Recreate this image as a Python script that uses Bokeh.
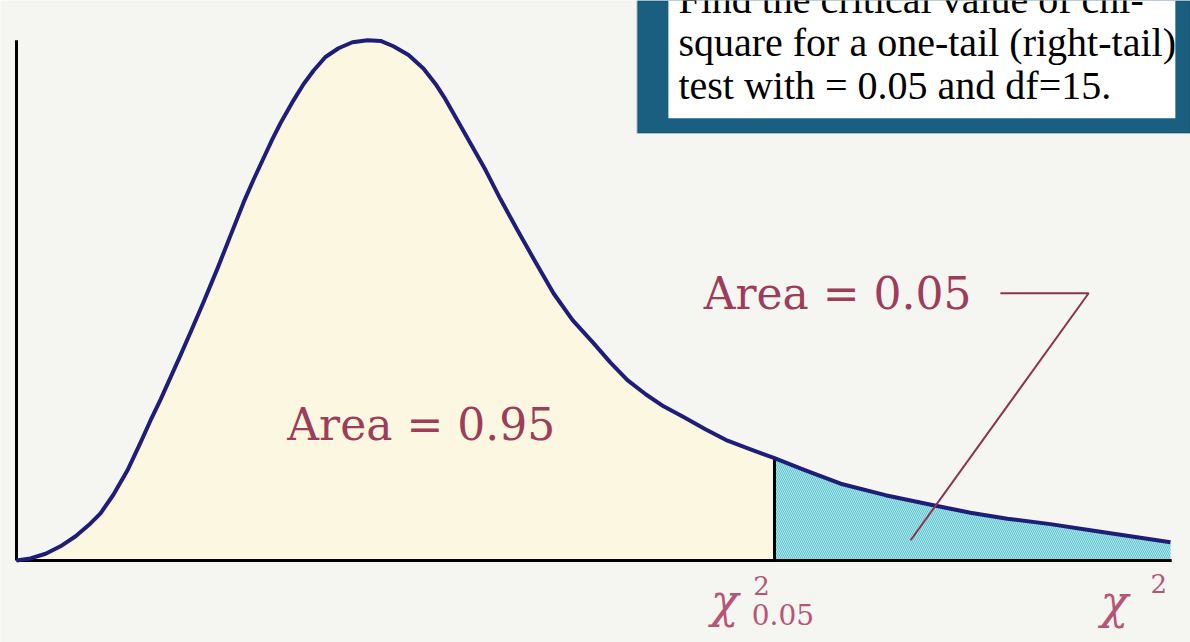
from bokeh.plotting import figure
from bokeh.models import ColumnDataSource, BoxAnnotation, Range1d
from bokeh.core.properties import value
from bokeh.embed import file_html
from bokeh.resources import INLINE

# Chi-square density curve (df = 15), sampled points
chi_x = [0.0, 0.46, 0.96, 1.45, 1.95, 2.44, 2.77, 3.20, 3.66, 4.09, 4.42, 4.75,
         5.08, 5.41, 5.74, 6.17, 6.63, 7.06, 7.49, 7.82, 8.15, 8.44, 8.71, 9.14,
         9.47, 9.80, 10.19, 10.62, 11.08, 11.58, 12.01, 12.43, 12.93, 13.42,
         13.82, 14.15, 14.54, 14.97, 15.47, 15.96, 16.52, 17.12, 17.71, 18.34,
         19.03, 19.59, 20.15, 20.75, 21.34, 22.00, 22.72, 23.45, 24.21, 25.0,
         26.02, 27.18, 28.66, 30.24, 31.46, 32.68, 34.10, 35.42, 36.74, 38.06]
density = [0.0, 0.0003, 0.0010, 0.0021, 0.0036, 0.0055, 0.0070, 0.0098, 0.0134,
           0.0175, 0.0208, 0.0239, 0.0272, 0.0305, 0.0339, 0.0384, 0.0434, 0.0483,
           0.0532, 0.0566, 0.0598, 0.0626, 0.0650, 0.0684, 0.0708, 0.0728, 0.0748,
           0.0761, 0.0770, 0.0773, 0.0772, 0.0764, 0.0751, 0.0731, 0.0708, 0.0685,
           0.0654, 0.0620, 0.0580, 0.0537, 0.0491, 0.0443, 0.0397, 0.0357, 0.0323,
           0.0294, 0.0268, 0.0247, 0.0229, 0.0213, 0.0195, 0.0178, 0.0165, 0.0152,
           0.0134, 0.0114, 0.0097, 0.0082, 0.0071, 0.0062, 0.0054, 0.0045, 0.0036,
           0.0027]

critical_value = 25.0
alpha = 0.05
area_left_text = "Area = 0.95"
area_right_text = "Area = 0.05"
question_lines = ["Find the critical value of chi-",
                  "square for a one-tail (right-tail)",
                  "test with = 0.05 and df=15."]

# Extent of the drawn axis lines
x_axis_end = 38.1
y_axis_end = 0.0773

left = [(x, y) for x, y in zip(chi_x, density) if x <= critical_value]
right = [(x, y) for x, y in zip(chi_x, density) if x >= critical_value]
crit_height = dict(zip(chi_x, density))[critical_value]

src_all = ColumnDataSource(dict(x=chi_x, y=density))
src_left = ColumnDataSource(dict(x=[q[0] for q in left], y=[q[1] for q in left],
                                 y0=[0.0] * len(left)))
src_right = ColumnDataSource(dict(x=[q[0] for q in right], y=[q[1] for q in right],
                                  y0=[0.0] * len(right)))

p = figure(width=1190, height=642, output_backend="svg", toolbar_location=None,
           x_axis_type=None, y_axis_type=None,
           x_range=Range1d(-0.528, 38.72), y_range=Range1d(-0.01219, 0.0832),
           min_border=0)
p.background_fill_color = "#f5f5f1"
p.border_fill_color = "#f5f5f1"
p.outline_line_color = None
p.xgrid.visible = False
p.ygrid.visible = False

# Question box in the corner
p.add_layout(BoxAnnotation(left=20.48, bottom=0.0635, fill_color="#1b5f80",
                           fill_alpha=1, line_color="#103f57", line_width=2,
                           level="underlay"))
p.add_layout(BoxAnnotation(left=21.50, right=38.22, bottom=0.0657,
                           fill_color="white", fill_alpha=1, line_color=None,
                           level="underlay"))
p.text(x=[21.83] * 3, y=[0.0834, 0.0770, 0.0706], text=question_lines,
       text_font=value("Liberation Serif"), text_font_size="40px",
       text_color="black", text_baseline="alphabetic", text_align="left")

# Shaded areas under the curve
p.varea(x="x", y1="y0", y2="y", source=src_left, fill_color="#fbf7e1")
p.varea(x="x", y1="y0", y2="y", source=src_right, fill_color="#a6ecf1",
        hatch_pattern="\\", hatch_color="#3f9eab", hatch_scale=4,
        hatch_weight=1, hatch_alpha=0.6)

# Axis lines
p.segment(x0=[0, 0], y0=[0, 0], x1=[0, x_axis_end], y1=[y_axis_end, 0],
          line_color="black", line_width=3)

# Critical value line
p.segment(x0=[critical_value], y0=[0], x1=[critical_value], y1=[crit_height],
          line_color="black", line_width=3)

# Density curve
p.line("x", "y", source=src_all, line_color="#1e1e78", line_width=4,
       line_join="round")

# Area labels
label_color = "#9d3d5a"
p.text(x=[13.35], y=[0.0202], text=[area_left_text], text_align="center",
       text_baseline="alphabetic", text_font=value("DejaVu Serif"),
       text_font_size="44px", text_color=label_color)
p.text(x=[27.08], y=[0.0397], text=[area_right_text], text_align="center",
       text_baseline="alphabetic", text_font=value("DejaVu Serif"),
       text_font_size="44px", text_color=label_color)

# Leader line from the right-area label into the tail
p.line(x=[32.45, 35.36, 29.49], y=[0.0397, 0.0397, 0.0030],
       line_color="#8a3452", line_width=2)

# Axis symbols below the baseline
sym_color = "#b65676"
for x, y, txt, size, style in [
        (critical_value - 2.10, -0.0060, "\u03c7", "46px", "italic"),
        (critical_value - 0.70, -0.0037, "2", "26px", "normal"),
        (critical_value - 0.75, -0.0080, "0.05", "28px", "normal"),
        (35.75, -0.0062, "\u03c7", "46px", "italic"),
        (37.40, -0.0034, "2", "26px", "normal")]:
    p.text(x=[x], y=[y], text=[txt], text_font=value("DejaVu Serif"),
           text_font_size=size, text_font_style=style, text_color=sym_color,
           text_baseline="alphabetic", text_align="left")

open("out.html", "w").write(file_html(p, INLINE))
